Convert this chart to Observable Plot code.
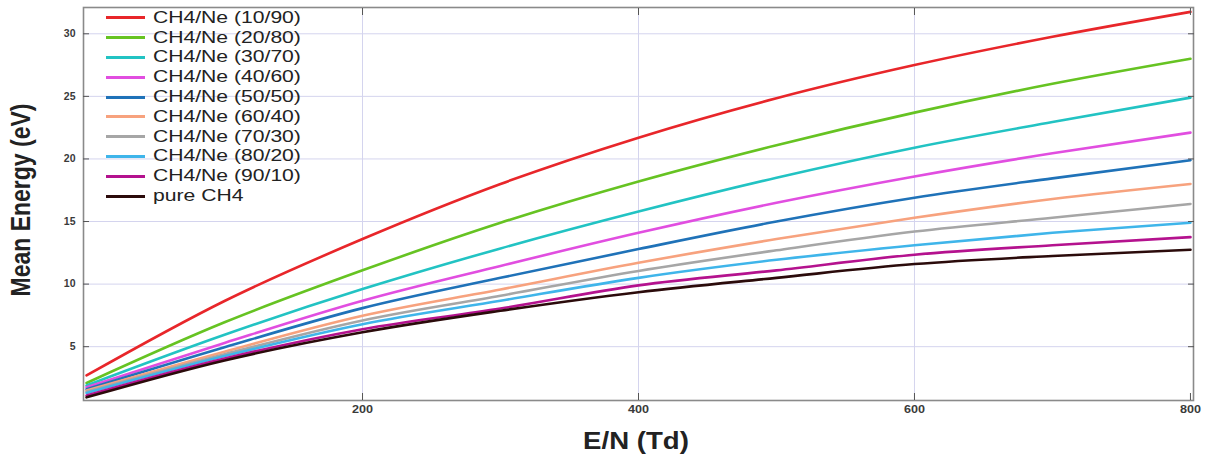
<!DOCTYPE html>
<html>
<head>
<meta charset="utf-8">
<script src="https://cdn.jsdelivr.net/npm/d3@7"></script>
<script src="https://cdn.jsdelivr.net/npm/@observablehq/plot@0.6"></script>
<style>
  body { margin: 0; background: #fff; }
  #wrap { position: relative; width: 1208px; height: 457px; font-family: "Liberation Sans", Arial, sans-serif; }
  #legend { position: absolute; left: 106px; top: 8px; }
  .row { display: flex; align-items: center; height: 19.8px; }
  .sw { width: 39px; height: 3px; margin-right: 8px; }
  .lt { font-size: 16px; color: #222; transform: scaleX(1.32); transform-origin: left center; white-space: nowrap; }
  #ylab { position: absolute; left: 21px; top: 200px; font-size: 23px; font-weight: bold; color: #222; white-space: nowrap;
          transform: translate(-50%, -50%) rotate(-90deg) scale(1, 1.2); }
  #xlab { position: absolute; left: 636px; top: 441px; font-size: 23px; font-weight: bold; color: #222; white-space: nowrap;
          transform: translate(-50%, -50%) scale(1.2, 1); }
</style>
</head>
<body>
<div id="wrap"></div>
<script>
// E/N (Td) sample positions
const en = [0, 100, 200, 300, 400, 500, 600, 700, 800];

// Mean energy (eV) per mixture
const ch4ne_10_90 = [2.7, 8.65, 13.6, 18.0, 21.7, 24.85, 27.5, 29.76, 31.75];
const ch4ne_20_80 = [2.1, 6.95, 11.1, 14.9, 18.2, 21.1, 23.7, 26.0, 28.0];
const ch4ne_30_70 = [1.9, 5.95, 9.6, 12.85, 15.8, 18.5, 20.9, 22.95, 24.9];
const ch4ne_40_60 = [1.75, 5.3, 8.67, 11.45, 14.1, 16.5, 18.6, 20.45, 22.1];
const ch4ne_50_50 = [1.6, 4.95, 8.08, 10.5, 12.8, 15.0, 16.9, 18.45, 19.9];
const ch4ne_60_40 = [1.5, 4.6, 7.47, 9.57, 11.7, 13.6, 15.3, 16.8, 18.0];
const ch4ne_70_30 = [1.4, 4.4, 7.1, 9.07, 11.05, 12.7, 14.2, 15.3, 16.4];
const ch4ne_80_20 = [1.3, 4.25, 6.8, 8.67, 10.5, 11.94, 13.1, 14.1, 14.9];
const ch4ne_90_10 = [1.1, 4.05, 6.4, 8.05, 9.9, 11.1, 12.35, 13.1, 13.75];
const pure_ch4    = [0.95, 3.9, 6.15, 7.87, 9.35, 10.5, 11.6, 12.25, 12.75];

const seriesNames = ["CH4/Ne (10/90)", "CH4/Ne (20/80)", "CH4/Ne (30/70)", "CH4/Ne (40/60)", "CH4/Ne (50/50)",
                     "CH4/Ne (60/40)", "CH4/Ne (70/30)", "CH4/Ne (80/20)", "CH4/Ne (90/10)", "pure CH4"];
const seriesValues = [ch4ne_10_90, ch4ne_20_80, ch4ne_30_70, ch4ne_40_60, ch4ne_50_50,
                      ch4ne_60_40, ch4ne_70_30, ch4ne_80_20, ch4ne_90_10, pure_ch4];
const seriesColors = ["#e8262a", "#66c322", "#22c3c3", "#e14ee0", "#1f72b8",
                      "#f7a27e", "#a6a6a6", "#3fb5ea", "#b4128e", "#2b0b0b"];

const xTicks = [200, 400, 600, 800];
const yTicks = [5, 10, 15, 20, 25, 30];
const xLabel = "E/N (Td)";
const yLabel = "Mean Energy (eV)";

const data = seriesNames.flatMap((name, i) => en.map((x, j) => ({series: name, x, y: seriesValues[i][j]})));

const gridColor = "#d4d4ee";
const tickColor = "#555";

const chart = Plot.plot({
  width: 1208,
  height: 457,
  marginLeft: 83,
  marginRight: 15,
  marginTop: 7,
  marginBottom: 57,
  style: {fontFamily: "'Liberation Sans', Arial, sans-serif", background: "#fff"},
  x: {domain: [-2.2, 802.2], label: null},
  y: {domain: [0.7, 32.1], label: null},
  color: {domain: seriesNames, range: seriesColors},
  marks: [
    Plot.gridY({ticks: yTicks, stroke: gridColor, strokeOpacity: 1, strokeWidth: 1}),
    Plot.gridX({ticks: [200, 400, 600], stroke: gridColor, strokeOpacity: 1, strokeWidth: 1}),
    Plot.line(data, {x: "x", y: "y", z: "series", stroke: "series", strokeWidth: 2.6, curve: "monotone-x"}),
    Plot.frame({stroke: "#8a8a8a", strokeWidth: 1.6}),
    // tick labels
    Plot.axisY({ticks: yTicks, anchor: "left", tickSize: 0, tickPadding: 8, fontSize: 10.5, fontWeight: "bold", color: "#3a3a3a", label: null}),
    Plot.axisX({ticks: xTicks, anchor: "bottom", tickSize: 0, tickPadding: 5, fontSize: 10.5, fontWeight: "bold", color: "#3a3a3a", label: null}),
    // inward tick marks
    Plot.axisY({ticks: yTicks, anchor: "left", tickSize: 6, dx: 6, tickFormat: () => "", stroke: tickColor, label: null}),
    Plot.axisY({ticks: yTicks, anchor: "right", tickSize: 6, dx: -6, tickFormat: () => "", stroke: tickColor, label: null}),
    Plot.axisX({ticks: xTicks, anchor: "bottom", tickSize: 7, dy: -7, tickFormat: () => "", stroke: tickColor, label: null}),
    Plot.axisX({ticks: xTicks, anchor: "top", tickSize: 7, dy: 7, tickFormat: () => "", stroke: tickColor, label: null})
  ]
});

// widen the x tick labels slightly about their anchor, as in the reference
chart.querySelectorAll('g[aria-label="x-axis tick label"] text').forEach((t) => {
  const tr = t.getAttribute("transform");
  if (!t.textContent || !tr || !/translate/.test(tr) || t.hasAttribute("x")) return;
  t.setAttribute("transform", `${tr} scale(1.2,1)`);
});

const wrap = document.getElementById("wrap");
wrap.appendChild(chart);

const legend = document.createElement("div");
legend.id = "legend";
seriesNames.forEach((name, i) => {
  const row = document.createElement("div");
  row.className = "row";
  const sw = document.createElement("div");
  sw.className = "sw";
  sw.style.background = seriesColors[i];
  const t = document.createElement("span");
  t.className = "lt";
  t.textContent = name;
  row.appendChild(sw);
  row.appendChild(t);
  legend.appendChild(row);
});
wrap.appendChild(legend);

const yl = document.createElement("div");
yl.id = "ylab";
yl.textContent = yLabel;
wrap.appendChild(yl);

const xl = document.createElement("div");
xl.id = "xlab";
xl.textContent = xLabel;
wrap.appendChild(xl);
</script>
</body>
</html>
